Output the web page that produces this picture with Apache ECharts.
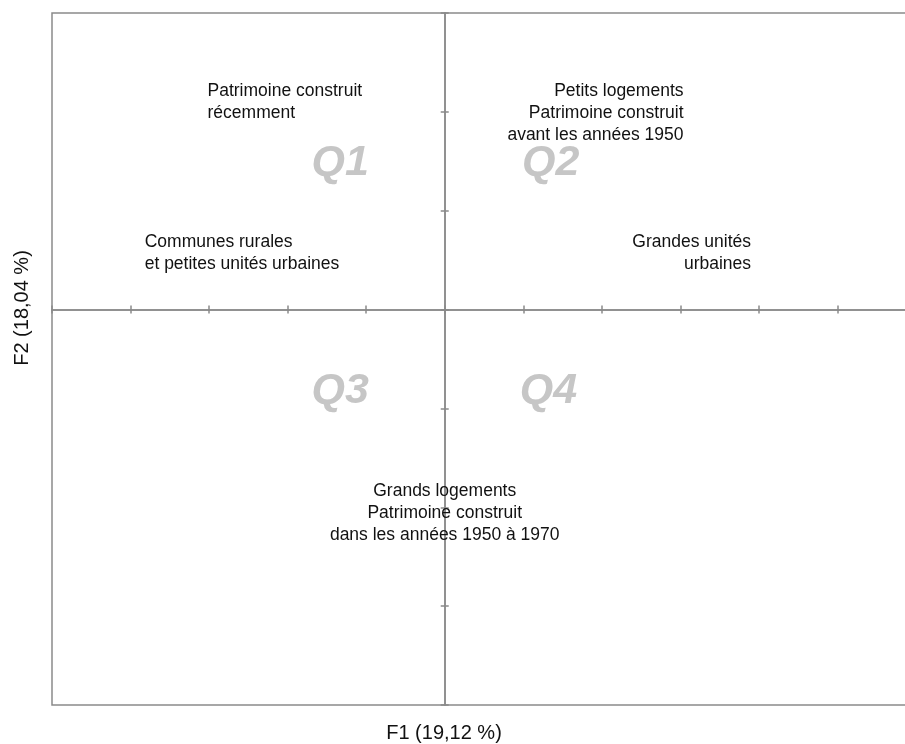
<!DOCTYPE html>
<html>
<head>
<meta charset="utf-8">
<title>F1 / F2</title>
<script src="https://cdn.jsdelivr.net/npm/echarts@6/dist/echarts.min.js"></script>
<style>
  html, body { margin: 0; padding: 0; background: #fff; overflow: hidden; width: 905px; height: 744px; }
  /* le cadre du graphique dépasse à droite, comme dans l'original */
  #chart { width: 920px; height: 744px; }
</style>
</head>
<body>
<div id="chart"></div>
<script>
// bornes des axes factoriels
var xMin = -5, xMax = 6;
var yMin = -4, yMax = 3;

// libellés des modalités (texte, position F1/F2, alignement)
var labelNames = [
  "Patrimoine construit\nrécemment",
  "Petits logements\nPatrimoine construit\navant les années 1950",
  "Communes rurales\net petites unités urbaines",
  "Grandes unités\nurbaines",
  "Grands logements\nPatrimoine construit\ndans les années 1950 à 1970"
];
var labelX = [-3.02, 3.04, -3.82, 3.9, 0];
var labelY = [2.1, 1.99, 0.57, 0.57, -2.06];
var labelAlign = ["left", "right", "left", "right", "center"];

// quadrants
var quadNames = ["Q1", "Q2", "Q3", "Q4"];
var quadX = [-1.33, 1.35, -1.33, 1.32];
var quadY = [1.48, 1.48, -0.83, -0.83];

var lineColor = "#8a8a8a";
var font = "'Liberation Sans', Arial, Helvetica, sans-serif";

var myChart = echarts.init(document.getElementById("chart"));

function xAxisDef(tickInside) {
  return {
    type: "value",
    min: xMin,
    max: xMax,
    interval: 1,
    position: "bottom",
    axisLine: { show: true, onZero: true, lineStyle: { color: lineColor, width: 1.5 } },
    axisTick: { show: true, inside: tickInside, length: 4, lineStyle: { color: lineColor, width: 1.5 } },
    axisLabel: { show: false },
    splitLine: { show: false }
  };
}
function yAxisDef(tickInside) {
  return {
    type: "value",
    min: yMin,
    max: yMax,
    interval: 1,
    position: "left",
    axisLine: { show: true, onZero: true, lineStyle: { color: lineColor, width: 1.5 } },
    axisTick: { show: true, inside: tickInside, length: 4, lineStyle: { color: lineColor, width: 1.5 } },
    axisLabel: { show: false },
    splitLine: { show: false }
  };
}

var labelData = labelNames.map(function (name, i) {
  var pos = labelAlign[i] === "left" ? "right" : (labelAlign[i] === "right" ? "left" : "inside");
  return {
    name: name,
    value: [labelX[i], labelY[i]],
    label: { position: pos, align: labelAlign[i] }
  };
});

var quadData = quadNames.map(function (name, i) {
  return { name: name, value: [quadX[i], quadY[i]] };
});

var option = {
  animation: false,
  grid: {
    left: 52,
    top: 13,
    right: 4,
    bottom: 39,
    show: true,
    borderColor: lineColor,
    borderWidth: 1.5,
    backgroundColor: "transparent"
  },
  xAxis: [xAxisDef(true), xAxisDef(false)],
  yAxis: [yAxisDef(true), yAxisDef(false)],
  series: [
    {
      name: "quadrants",
      type: "scatter",
      symbolSize: 0,
      silent: true,
      z: 1,
      itemStyle: { opacity: 1 },
      data: quadData,
      label: {
        show: true,
        position: "inside",
        formatter: "{b}",
        color: "#c6c6c6",
        fontFamily: font,
        fontSize: 43,
        fontWeight: "bold",
        fontStyle: "italic"
      }
    },
    {
      name: "modalites",
      type: "scatter",
      symbolSize: 0,
      silent: true,
      z: 3,
      itemStyle: { opacity: 1 },
      data: labelData,
      label: {
        show: true,
        distance: 0,
        formatter: "{b}",
        color: "#111",
        fontFamily: font,
        fontSize: 17.5,
        lineHeight: 22
      }
    }
  ],
  graphic: [
    {
      type: "text",
      x: 444,
      y: 733,
      style: {
        text: "F1 (19,12 %)",
        fill: "#111",
        font: "20px " + font,
        align: "center",
        verticalAlign: "middle"
      }
    },
    {
      type: "text",
      x: 22,
      y: 308,
      rotation: Math.PI / 2,
      style: {
        text: "F2 (18,04 %)",
        fill: "#111",
        font: "20px " + font,
        align: "center",
        verticalAlign: "middle"
      }
    }
  ]
};

myChart.setOption(option);
window.addEventListener("resize", function () {
  myChart.resize();
});
</script>
</body>
</html>
